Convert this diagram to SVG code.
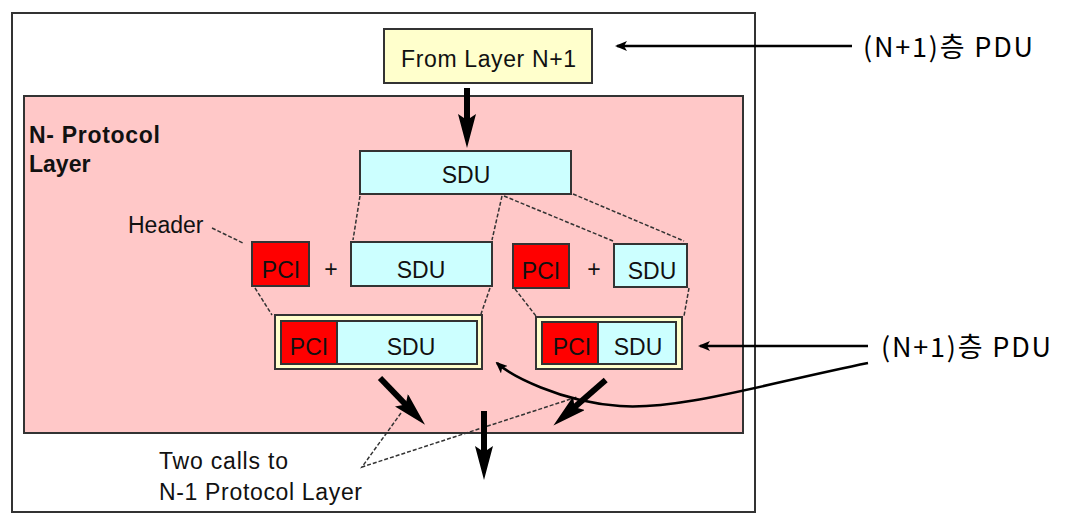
<svg xmlns="http://www.w3.org/2000/svg" width="1068" height="527" viewBox="0 0 1068 527">
<style>
  .box { stroke: #333; stroke-width: 2; }
  .sdu { fill: #CCFFFF; }
  .pci { fill: #FF0000; }
  .yel { fill: #FFFFCC; }
  .t { font-family: "Liberation Sans", Arial, sans-serif; font-size: 23px; fill: #111; }
  .c { text-anchor: middle; }
  .b { font-weight: bold; }
  .kr { font-family: "Noto Sans CJK KR", "Noto Sans", sans-serif; font-size: 27px; fill: #000; }
  .dash { stroke: #333; stroke-width: 1.5; stroke-dasharray: 4 2; fill: none; }
  .thick { stroke: #000; stroke-width: 6; fill: none; }
  .thin { stroke: #000; stroke-width: 2.5; fill: none; }
</style>
<defs>
  <marker id="bighead" viewBox="0 0 34 18" markerWidth="34" markerHeight="18" refX="8" refY="9" orient="auto" markerUnits="userSpaceOnUse">
    <path d="M0,0 L34,9 L0,18 L6,9 Z" fill="#000"/>
  </marker>
  <marker id="smallhead" viewBox="0 0 12 10" markerWidth="12" markerHeight="10" refX="10" refY="5" orient="auto" markerUnits="userSpaceOnUse">
    <path d="M0,0 L12,5 L0,10 L3,5 Z" fill="#000"/>
  </marker>
</defs>

<rect id="frame" x="12" y="13" width="743" height="499" fill="#fff" stroke="#333" stroke-width="2"/>
<g id="layer">
  <rect x="24" y="96" width="719" height="337" fill="#FFC8C8" stroke="#333" stroke-width="2"/>
  <text class="t b" x="29" y="143" textLength="131">N- Protocol</text>
  <text class="t b" x="29" y="172">Layer</text>
</g>

<g id="from-layer">
  <rect class="box yel" x="384" y="29" width="208" height="54"/>
  <text class="t" x="401" y="67" font-size="24" textLength="175">From Layer N+1</text>
</g>

<g id="sdu-top">
  <rect class="box sdu" x="360" y="151" width="211" height="43"/>
  <text class="t c" x="466" y="183" font-size="24">SDU</text>
</g>

<g id="header-label">
  <text class="t" x="128" y="233">Header</text>
</g>

<g id="pci-1">
  <rect class="box pci" x="252" y="242" width="57" height="44"/>
  <text class="t c" x="281" y="278">PCI</text>
</g>
<text class="t c" x="331" y="277" font-size="20">+</text>
<g id="sdu-2">
  <rect class="box sdu" x="351" y="242" width="141" height="44"/>
  <text class="t c" x="421" y="278" font-size="24">SDU</text>
</g>

<g id="pci-2">
  <rect class="box pci" x="513" y="244" width="56" height="44"/>
  <text class="t c" x="541" y="279">PCI</text>
</g>
<text class="t c" x="594" y="277" font-size="20">+</text>
<g id="sdu-3">
  <rect class="box sdu" x="614" y="244" width="73" height="43"/>
  <text class="t c" x="652" y="279" font-size="24">SDU</text>
</g>

<g id="pdu-1">
  <rect class="box yel" x="275" y="315" width="207" height="54"/>
  <rect class="box pci" x="281" y="321" width="56" height="43"/>
  <rect class="box sdu" x="337" y="321" width="140" height="43"/>
  <text class="t c" x="309" y="355">PCI</text>
  <text class="t c" x="411" y="355" font-size="24">SDU</text>
</g>

<g id="pdu-2">
  <rect class="box yel" x="536" y="317" width="146" height="52"/>
  <rect class="box pci" x="542" y="322" width="56" height="42"/>
  <rect class="box sdu" x="598" y="322" width="78" height="42"/>
  <text class="t c" x="572" y="355">PCI</text>
  <text class="t c" x="638" y="355" font-size="24">SDU</text>
</g>

<g id="calls-label">
  <text class="t" x="159" y="469" textLength="129">Two calls to</text>
  <text class="t" x="159" y="500" textLength="203">N-1 Protocol Layer</text>
</g>

<g id="pdu-label-1">
  <text class="kr" x="863" y="57" textLength="170">(N+1)층 PDU</text>
</g>
<g id="pdu-label-2">
  <text class="kr" x="881" y="357" textLength="170">(N+1)층 PDU</text>
</g>

<g id="connectors">
  <line class="dash" x1="212" y1="228" x2="243" y2="243"/>
  <line class="dash" x1="360" y1="196" x2="353" y2="240"/>
  <line class="dash" x1="502" y1="196" x2="492" y2="240"/>
  <line class="dash" x1="504" y1="196" x2="613" y2="241"/>
  <line class="dash" x1="573" y1="194" x2="684" y2="241"/>
  <line class="dash" x1="255" y1="288" x2="272" y2="315"/>
  <line class="dash" x1="490" y1="288" x2="481" y2="314"/>
  <line class="dash" x1="515" y1="289" x2="536" y2="316"/>
  <line class="dash" x1="689" y1="288" x2="684" y2="316"/>
  <polyline class="dash" points="401,413 362,467 577,397"/>

  <line class="thick" x1="467" y1="88" x2="467" y2="122" marker-end="url(#bighead)"/>
  <line class="thick" x1="380" y1="378" x2="407" y2="406" marker-end="url(#bighead)"/>
  <line class="thick" x1="605.7" y1="380" x2="573" y2="408.5" marker-end="url(#bighead)"/>
  <line class="thick" x1="484" y1="411" x2="484" y2="454" stroke-width="5" marker-end="url(#bighead)"/>

  <line class="thin" x1="852" y1="46" x2="617" y2="46" marker-end="url(#smallhead)"/>
  <line class="thin" x1="868" y1="346" x2="700" y2="346" marker-end="url(#smallhead)"/>
  <path class="thin" d="M868,363 C760,385 680,410 620,406 S510,375 497,363" marker-end="url(#smallhead)"/>
</g>
</svg>
